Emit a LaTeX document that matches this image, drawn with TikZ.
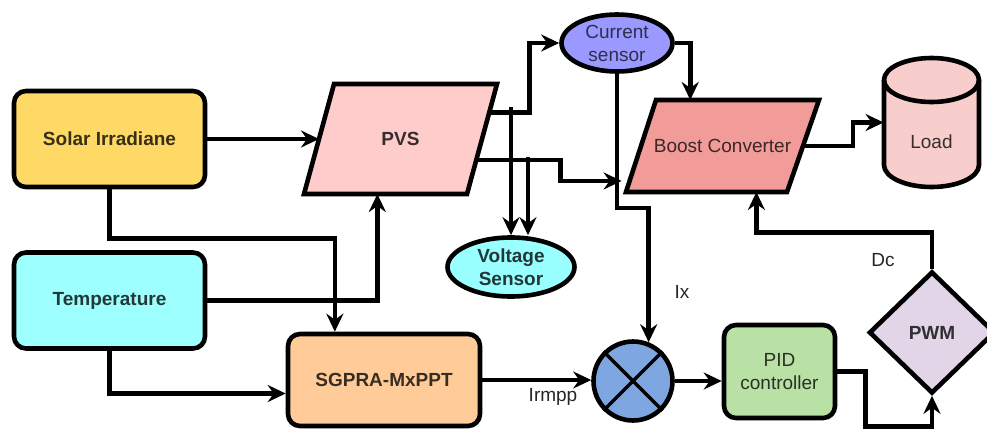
\documentclass[tikz,border=0pt]{standalone}
\usepackage{fontspec}
\setmainfont{Liberation Sans}
\usepackage{tikz}
\usetikzlibrary{shapes.geometric,arrows.meta,positioning,calc}

\definecolor{solarfill}{HTML}{FFD966}
\definecolor{tempfill}{HTML}{9EFFFF}
\definecolor{pvsfill}{HTML}{FFCCCC}
\definecolor{mpptfill}{HTML}{FFCC99}
\definecolor{csfill}{HTML}{9999FF}
\definecolor{vsfill}{HTML}{99FFFF}
\definecolor{boostfill}{HTML}{F19C99}
\definecolor{loadfill}{HTML}{F8CECC}
\definecolor{multfill}{HTML}{7EA6E0}
\definecolor{pidfill}{HTML}{B9E0A5}
\definecolor{pwmfill}{HTML}{E1D5E7}
\definecolor{txt}{HTML}{262626}

\newcommand{\dgfont}{\fontsize{9.5}{11.5}\selectfont}

\tikzset{
  blk/.style={draw,line width=2.3pt,rounded corners=6pt,inner sep=2pt,align=center},
  outline/.style={draw,line width=2.3pt,line join=miter},
  sensor/.style={draw,line width=2.3pt,ellipse,inner sep=0pt,align=center},
  arr/.style={line width=2.3pt,-{Stealth[length=9pt,width=8.5pt,inset=3pt]}},
  boldtext/.style={font=\dgfont\bfseries},
}

\begin{document}
\begin{tikzpicture}[x=0.5pt,y=-0.5pt,font=\dgfont,text=txt]
  \useasboundingbox (0,0) rectangle (987,429);
  % Inputs
  \node[blk,fill=solarfill,text=solarfill!22!black,minimum width=95.5pt,minimum height=48pt,boldtext] (solar) at (109.5,139) {Solar Irradiane};
  \node[blk,fill=tempfill,text=tempfill!22!black,minimum width=95.5pt,minimum height=48pt,boldtext] (temp) at (109.5,300.5) {Temperature};
  % PV source (parallelogram)
  \coordinate (pvsbl) at (304,194);
  \coordinate (pvsbr) at (467,194);
  \coordinate (pvstr) at (497,84);
  \coordinate (pvstl) at (334,84);
  \draw[outline,fill=pvsfill] (pvsbl) -- (pvsbr) -- (pvstr) -- (pvstl) -- cycle;
  \node[text=pvsfill!22!black,boldtext] (pvs) at (400.5,139) {PVS};
  \node[blk,fill=mpptfill,text=mpptfill!22!black,minimum width=96pt,minimum height=46pt,boldtext] (mppt) at (384,380) {SGPRA-MxPPT};
  % Sensors
  \node[sensor,fill=csfill,text=csfill!30!black,minimum width=55.5pt,minimum height=28.5pt] (cs) at (617,43) {Current\\sensor};
  \node[sensor,fill=vsfill,text=vsfill!22!black,minimum width=63.5pt,minimum height=29.5pt,boldtext] (vs) at (511,267) {Voltage\\Sensor};
  % Boost converter (parallelogram)
  \coordinate (boostbl) at (626,192);
  \coordinate (boostbr) at (787,192);
  \coordinate (boosttr) at (819,100);
  \coordinate (boosttl) at (656,100);
  \draw[outline,fill=boostfill] (boostbl) -- (boostbr) -- (boosttr) -- (boosttl) -- cycle;
  \node[text=boostfill!25!black] (boost) at (722.5,146) {Boost Converter};
  % Load (cylinder)
  \draw[outline,fill=loadfill] (884,80) -- (884,165)
    arc[start angle=180,end angle=360,x radius=23.75pt,y radius=11pt] -- (979,80)
    arc[start angle=0,end angle=180,x radius=23.75pt,y radius=11pt] -- cycle;
  \draw[line width=2.3pt] (884,80) arc[start angle=180,end angle=360,x radius=23.75pt,y radius=11pt];
  \node[minimum width=47.5pt,minimum height=64.5pt,inner sep=0pt] (load) at (931.5,122.5) {};
  \node[text=loadfill!22!black] (loadlabel) at (931.5,142) {Load};
  % Control loop
  \node[circle,draw,line width=2.3pt,fill=multfill,minimum size=39.5pt,inner sep=0pt] (mult) at (633,381) {};
  \draw[line width=1.7pt] (mult.north west) -- (mult.south east) (mult.north east) -- (mult.south west);
  \node[blk,fill=pidfill,text=pidfill!22!black,minimum width=55.5pt,minimum height=46.5pt] (pid) at (779.5,371.5) {PID\\controller};
  \node[diamond,draw,line width=2.3pt,fill=pwmfill,text=pwmfill!22!black,minimum width=63pt,minimum height=61pt,inner sep=0pt,boldtext] (pwm) at (932,332.5) {PWM};
  % Signal labels
  \node (ix) at (682,292) {Ix};
  \node (irmpp) at (553,397) {Irmpp};
  \node (dc) at (883,260) {Dc};
  % Input connections
  \draw[arr] (solar.east) -- ($(pvsbl)!0.5!(pvstl)$);
  \draw[arr] (solar.south) -- ++(0,49) -| ($(mppt.north west)!0.25!(mppt.north east)$);
  \draw[arr] (temp.east) -| ($(pvsbl)!0.45!(pvsbr)$);
  \draw[arr] (temp.south) |- ($(mppt.north west)!0.64!(mppt.south west)$);
  % PVS outputs
  \draw[arr] ($(pvstr)!0.26!(pvsbr)$) -- ++(40,0) |- (cs.west);
  \draw[arr,shorten >=4pt] ($(pvstr)!0.69!(pvsbr)$) -- ++(84,0) |- ($(boostbl)!0.12!(boosttl)$);
  \coordinate (vtapa) at (511,107);
  \coordinate (vtapb) at (528,157);
  \draw[arr] (vtapa) -- (vtapa |- vs.north);
  \draw[arr] (vtapb) -- (vtapb |- vs.north);
  % Current sensor outputs
  \draw[arr] (cs.east) -| ($(boosttl)!0.21!(boosttr)$);
  \draw[arr] (cs.south) -- ++(0,134) -| (mult.68);
  % Loop
  \draw[arr] (mppt.east) -- (mppt.east -| mult.west);
  \draw[arr] (mult.east) -- (mult.east -| pid.west);
  \draw[arr] (pid.east) -- ++(28,0) -- ++(0,55) -| (pwm.south);
  \draw[arr] (pwm.north) -- ++(0,-37) -| ($(boostbl)!0.81!(boostbr)$);
  \draw[arr] ($(boostbr)!0.5!(boosttr)$) -- ++(50,0) |- (load.west);
\end{tikzpicture}
\end{document}
